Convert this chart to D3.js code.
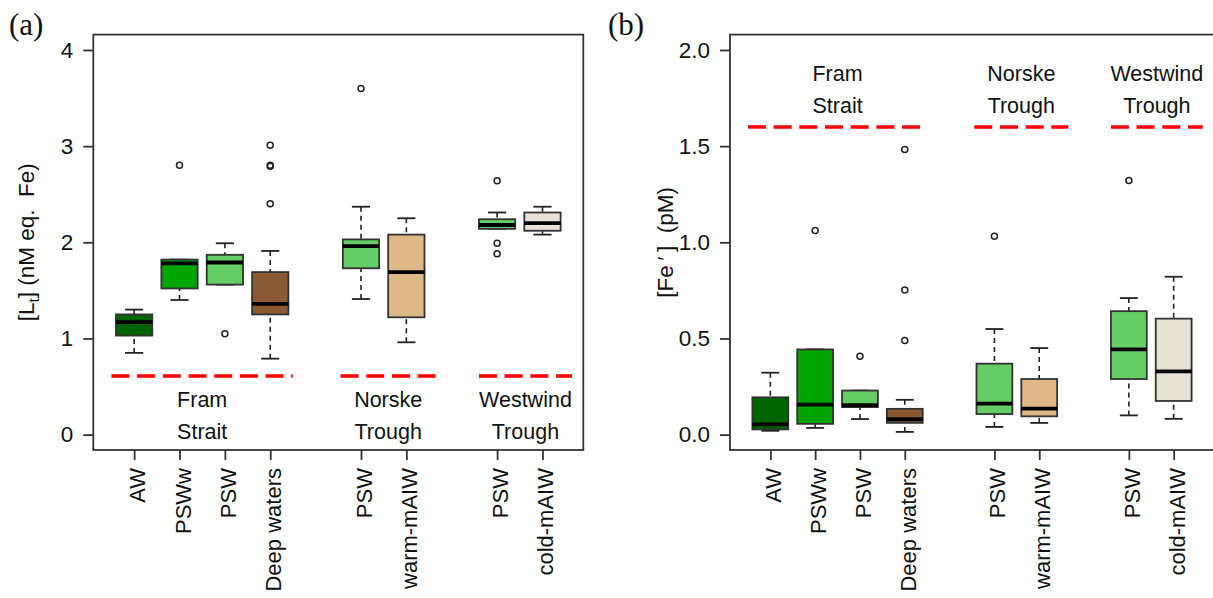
<!DOCTYPE html>
<html><head><meta charset="utf-8">
<script src="https://cdn.jsdelivr.net/npm/d3@7"></script>
<style>
html,body{margin:0;padding:0;background:#fff;}
svg{display:block;font-family:"Liberation Sans",Arial,sans-serif;}
</style></head>
<body>
<svg id="chart" width="1213" height="598"></svg>
<script>
// ---------- data ----------
const categories = ["AW","PSWw","PSW","Deep waters","PSW","warm-mAIW","PSW","cold-mAIW"];
const positions  = [1,2,3,4,6,7,9,10];
const groupNames = [["Fram","Strait"],["Norske","Trough"],["Westwind","Trough"]];
const groupSpans = [[0.5,4.5],[5.55,7.65],[8.6,10.65]];

// panel (a): [Lt]
const ltLow    = [0.85,1.40,1.56,0.79,1.41,0.96,2.14,2.08];
const ltQ1     = [1.03,1.52,1.56,1.25,1.73,1.22,2.14,2.12];
const ltMedian = [1.17,1.78,1.79,1.36,1.96,1.69,2.18,2.20];
const ltQ3     = [1.25,1.82,1.87,1.69,2.03,2.08,2.24,2.31];
const ltHigh   = [1.30,1.82,1.99,1.91,2.37,2.25,2.31,2.37];
const ltOutliers = [[],[2.80],[1.05],[2.40,2.79,2.80,3.01],[3.60],[],[1.88,1.99,2.64],[]];
const ltRef = 0.61;
const ltTicks = [0,1,2,3,4];

// panel (b): [Fe']
const feLow    = [0.020,0.035,0.081,0.014,0.040,0.061,0.100,0.082];
const feQ1     = [0.027,0.056,0.143,0.061,0.107,0.095,0.289,0.175];
const feMedian = [0.053,0.156,0.153,0.080,0.161,0.135,0.443,0.329];
const feQ3     = [0.194,0.443,0.229,0.134,0.369,0.289,0.642,0.603];
const feHigh   = [0.322,0.443,0.229,0.181,0.549,0.450,0.710,0.821];
const feOutliers = [[],[1.061],[0.408],[0.489,0.752,1.482],[1.032],[],[1.321],[]];
const feRef = 1.60;
const feTicks = [0,0.5,1.0,1.5,2.0];

// ---------- styles ----------
const palette = ["#006400","#00a600","#66cd66","#8b5a35","#66cd66","#deb887","#66cd66","#e8e2d6"];

const svg = d3.select("#chart");

function drawPanel(cfg){
  const g = svg.append("g");
  const x = d3.scaleLinear().domain([0.1,10.9]).range([cfg.left,cfg.right]);
  const y = d3.scaleLinear().domain(cfg.ydom).range([450,34.6]);
  const u = x(2)-x(1);
  const bw = 0.8*u, cw = 0.4*u;

  // reference dashed lines
  groupSpans.forEach(s=>{
    g.append("line").attr("x1",x(s[0])).attr("x2",x(s[1]))
      .attr("y1",y(cfg.ref)).attr("y2",y(cfg.ref))
      .attr("stroke","#ff0000").attr("stroke-width",3.5)
      .attr("stroke-dasharray","18,7.7");
  });
  // group labels
  groupNames.forEach((nm,i)=>{
    const cx = (x(groupSpans[i][0])+x(groupSpans[i][1]))/2;
    const y0 = y(cfg.ref)+cfg.labOff;
    nm.forEach((t,j)=>{
      g.append("text").attr("x",cx).attr("y",y0+j*32)
        .attr("text-anchor","middle").attr("font-size",21.5).attr("fill","#111").text(t);
    });
  });

  // boxes
  categories.forEach((c,i)=>{
    const px = x(positions[i]);
    const d = cfg.data;
    [[d.low[i],d.q1[i]],[d.high[i],d.q3[i]]].forEach(w=>{
      if (Math.abs(w[0]-w[1])>1e-9){
        g.append("line").attr("x1",px).attr("x2",px).attr("y1",y(w[0])).attr("y2",y(w[1]))
          .attr("stroke","#222").attr("stroke-width",1.6).attr("stroke-dasharray","5,4");
      }
      g.append("line").attr("x1",px-cw/2).attr("x2",px+cw/2).attr("y1",y(w[0])).attr("y2",y(w[0]))
        .attr("stroke","#222").attr("stroke-width",1.8);
    });
    g.append("rect").attr("x",px-bw/2).attr("width",bw)
      .attr("y",y(d.q3[i])).attr("height",y(d.q1[i])-y(d.q3[i]))
      .attr("fill",palette[i]).attr("stroke","#333").attr("stroke-width",1.8);
    g.append("line").attr("x1",px-bw/2).attr("x2",px+bw/2)
      .attr("y1",y(d.med[i])).attr("y2",y(d.med[i]))
      .attr("stroke","#000").attr("stroke-width",3.8);
    d.out[i].forEach(o=>{
      g.append("circle").attr("cx",px).attr("cy",y(o)).attr("r",3)
        .attr("fill","none").attr("stroke","#222").attr("stroke-width",1.5);
    });
  });

  // frame
  g.append("rect").attr("x",cfg.left).attr("y",34.6)
    .attr("width",cfg.right-cfg.left).attr("height",450-34.6)
    .attr("fill","none").attr("stroke","#333").attr("stroke-width",1.8);

  // y axis
  const ya = d3.axisLeft(y).tickValues(cfg.ticks).tickSize(10).tickPadding(10)
    .tickFormat(cfg.fmt);
  const yg = g.append("g").attr("transform",`translate(${cfg.left},0)`).call(ya);
  yg.select(".domain").remove();
  yg.selectAll("line").attr("stroke","#333").attr("stroke-width",1.8);
  yg.selectAll("text").attr("font-size",22.5).attr("fill","#111")
    .attr("font-family","Liberation Sans, Arial, sans-serif");

  // x axis
  const xa = d3.axisBottom(x).tickValues(positions).tickSize(10).tickFormat("");
  const xg = g.append("g").attr("transform","translate(0,450)").call(xa);
  xg.select(".domain").remove();
  xg.selectAll("line").attr("stroke","#333").attr("stroke-width",1.8);
  categories.forEach((c,i)=>{
    g.append("text")
      .attr("transform",`translate(${x(positions[i])},468) rotate(-90)`)
      .attr("text-anchor","end").attr("dy","0.5em")
      .attr("font-size",22).attr("fill","#111").text(c);
  });

  // y title
  const t = g.append("text")
    .attr("transform",`translate(${cfg.titleX},${(34.6+450)/2}) rotate(-90)`)
    .attr("text-anchor","middle").attr("font-size",22.5).attr("fill","#111");
  cfg.title(t);

  // panel label
  svg.append("text").attr("x",cfg.tagX).attr("y",35)
    .attr("font-family","Liberation Serif, Times New Roman, serif")
    .attr("font-size",31).attr("fill","#111").text(cfg.tag);
}

drawPanel({
  left:93.3, right:583.3, ydom:[-0.16,4.16], ticks:ltTicks, fmt:d3.format("d"),
  ref:ltRef, labOff:31, titleX:34, tagX:9, tag:"(a)",
  data:{low:ltLow,q1:ltQ1,med:ltMedian,q3:ltQ3,high:ltHigh,out:ltOutliers},
  title:t=>{
    t.append("tspan").text("[L");
    t.append("tspan").attr("font-size",15).attr("dy",5).text("t");
    t.append("tspan").attr("dy",-5).text("] (nM eq.\u00a0 Fe)");
  }
});

drawPanel({
  left:730, right:1214, ydom:[-0.08,2.08], ticks:feTicks, fmt:d3.format(".1f"),
  ref:feRef, labOff:-46, titleX:673, tagX:608, tag:"(b)",
  data:{low:feLow,q1:feQ1,med:feMedian,q3:feQ3,high:feHigh,out:feOutliers},
  title:t=>{
    t.append("tspan").text("[Fe\u2009\u2032\u2009] \u00a0(pM)");
  }
});
</script>
</body></html>
